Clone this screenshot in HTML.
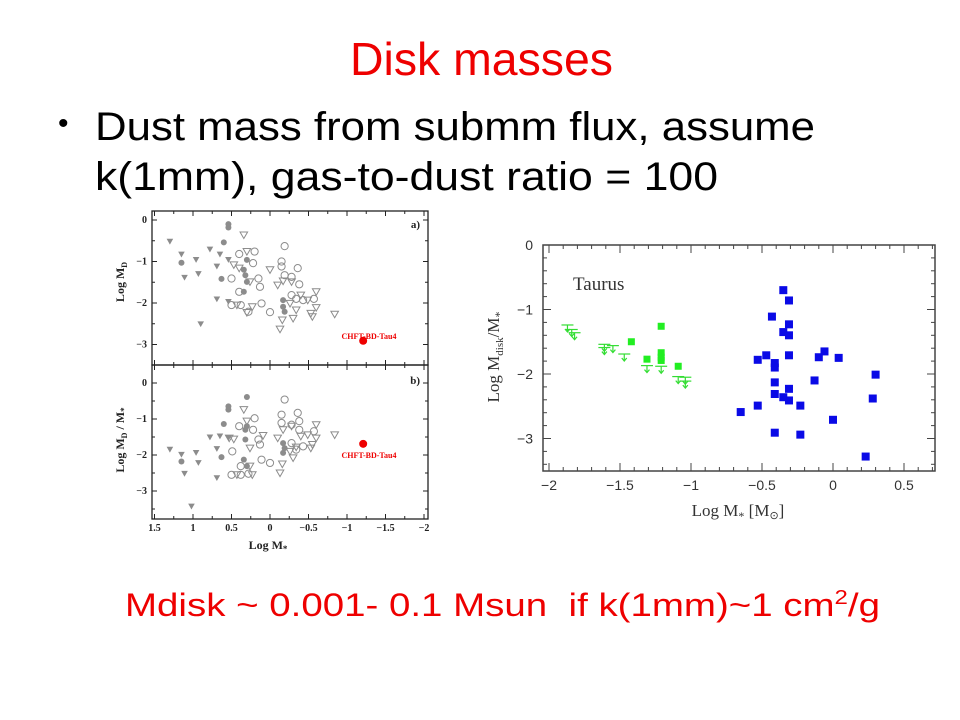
<!DOCTYPE html>
<html><head><meta charset="utf-8"><style>
html,body{margin:0;padding:0;background:#fff;}
svg{display:block;}
.sl{font-family:"Liberation Sans",sans-serif;}
.ax{font-family:"Liberation Serif",serif;font-weight:bold;font-size:10px;fill:#222;}
.rx{font-family:"Liberation Serif",serif;font-size:15px;fill:#333;}
.rt{font-family:"Liberation Sans",sans-serif;font-size:14px;fill:#333;}
</style></head><body>
<svg id="page" width="960" height="720" viewBox="0 0 960 720" xmlns="http://www.w3.org/2000/svg">
<text class="sl" x="350" y="75" font-size="46" fill="#ee0000" textLength="263" lengthAdjust="spacingAndGlyphs">Disk masses</text>
<text class="sl" x="58" y="133" font-size="30" fill="#000">•</text>
<text class="sl" x="95" y="140" font-size="40" fill="#000" textLength="720" lengthAdjust="spacingAndGlyphs">Dust mass from submm flux, assume</text>
<text class="sl" x="95" y="190" font-size="40" fill="#000" textLength="623" lengthAdjust="spacingAndGlyphs">k(1mm), gas-to-dust ratio = 100</text>
<text class="sl" x="125" y="616" font-size="32" fill="#ee0000" textLength="755" lengthAdjust="spacingAndGlyphs" xml:space="preserve">Mdisk ~ 0.001- 0.1 Msun  if k(1mm)~1 cm<tspan font-size="20" dy="-12">2</tspan><tspan dy="12">/g</tspan></text>
<g id="left"></g>
<g id="right"></g>
</svg>
<script>
// ---------- Left chart data (Log M*, value) ----------
const aFilledTri = [[1.30,-0.52],[1.15,-0.83],[1.11,-1.39],[0.96,-0.96],[0.93,-1.30],[0.90,-2.51],[0.78,-0.71],[0.69,-1.12],[0.69,-1.91],[0.65,-0.83],[0.54,-0.96],[0.54,-1.97]];
const aFilledCirc = [[1.15,-1.03],[0.63,-1.42],[0.60,-0.54],[0.54,-0.10],[0.54,-0.18],[0.30,-0.96],[0.34,-1.20],[0.32,-1.33],[0.30,-1.49],[0.34,-1.73],[-0.17,-1.93],[-0.17,-2.09],[-0.19,-2.21]];
const aOpenCirc = [[0.40,-0.82],[0.22,-1.04],[0.20,-0.76],[0.50,-1.41],[0.38,-2.05],[0.50,-2.05],[0.28,-2.21],[0.11,-2.01],[0.15,-1.41],[0.13,-1.61],[-0.15,-1.00],[-0.19,-0.63],[-0.15,-1.12],[-0.19,-1.33],[-0.28,-1.37],[-0.36,-1.16],[-0.38,-1.55],[0.00,-2.22],[-0.28,-1.81],[-0.34,-1.90],[-0.43,-1.93],[-0.57,-1.90],[0.40,-1.73]];
const aOpenTri = [[0.34,-0.36],[0.30,-0.76],[0.47,-1.08],[0.40,-1.16],[0.26,-1.49],[0.43,-2.05],[0.23,-2.09],[0.30,-2.23],[0.00,-1.20],[-0.10,-1.57],[-0.17,-1.47],[-0.28,-1.49],[-0.13,-2.63],[-0.16,-2.41],[-0.26,-2.01],[-0.34,-2.17],[-0.40,-1.81],[-0.49,-1.93],[-0.53,-2.25],[-0.60,-1.73],[-0.60,-2.11],[-0.84,-2.27],[-0.30,-2.37],[-0.55,-2.33]];
const aRed = [[-1.21,-2.91]];
const bFilledTri = [[1.30,-1.85],[1.15,-1.99],[1.11,-2.52],[0.96,-1.94],[0.93,-2.22],[0.69,-2.64],[0.78,-1.51],[0.69,-1.83],[0.65,-1.48],[0.54,-1.53],[1.02,-3.43]];
const bFilledCirc = [[1.15,-2.18],[0.63,-2.06],[0.60,-1.14],[0.54,-0.65],[0.54,-0.74],[0.30,-0.39],[0.30,-1.20],[0.32,-1.57],[0.34,-2.13],[0.30,-2.31],[-0.17,-1.67],[-0.17,-1.94],[-0.19,-1.81],[0.32,-1.30]];
const bOpenCirc = [[0.40,-1.20],[0.22,-1.30],[0.20,-0.98],[0.49,-1.90],[0.38,-2.31],[0.38,-2.55],[0.50,-2.55],[0.28,-2.52],[0.11,-2.13],[0.15,-1.57],[0.13,-1.71],[-0.15,-0.88],[-0.19,-0.46],[-0.15,-1.11],[-0.28,-1.16],[-0.36,-0.83],[-0.38,-1.30],[0,-2.22],[-0.28,-1.67],[-0.34,-1.85],[-0.43,-1.76],[-0.57,-1.34],[-0.38,-1.06]];
const bOpenTri = [[0.34,-0.74],[0.30,-1.06],[0.53,-1.53],[0.47,-1.56],[0.26,-1.81],[0.43,-2.55],[0.23,-2.55],[0.26,-2.31],[0.09,-1.46],[-0.10,-1.53],[-0.17,-1.30],[-0.28,-1.20],[-0.13,-2.50],[-0.16,-2.25],[-0.26,-1.90],[-0.34,-1.78],[-0.40,-1.48],[-0.49,-1.44],[-0.53,-1.81],[-0.60,-1.16],[-0.60,-1.53],[-0.84,-1.44],[-0.30,-2.08],[-0.55,-1.71]];
const bRed = [[-1.21,-1.69]];
const leftXTicks = [1.5,1,0.5,0,-0.5,-1,-1.5,-2];
const leftXTickLabels = ["1.5","1","0.5","0","\u22120.5","\u22121","\u22121.5","\u22122"];
const aYTicks = [0,-1,-2,-3];
const bYTicks = [0,-1,-2,-3];
// ---------- Right chart data ----------
const blueSquares = [[-0.35,-0.70],[-0.31,-0.86],[-0.43,-1.11],[-0.31,-1.23],[-0.35,-1.35],[-0.31,-1.40],[-0.31,-1.71],[-0.47,-1.71],[-0.53,-1.78],[-0.41,-1.83],[-0.41,-1.90],[-0.41,-2.13],[-0.31,-2.23],[-0.41,-2.31],[-0.35,-2.36],[-0.31,-2.41],[-0.23,-2.49],[-0.53,-2.49],[-0.65,-2.59],[-0.41,-2.91],[-0.23,-2.94],[-0.13,-2.10],[-0.10,-1.74],[-0.06,-1.65],[0.04,-1.75],[0.00,-2.71],[0.23,-3.28],[0.28,-2.38],[0.30,-2.01]];
const greenSquares = [[-1.21,-1.26],[-1.42,-1.50],[-1.31,-1.77],[-1.21,-1.67],[-1.21,-1.74],[-1.21,-1.79],[-1.09,-1.88]];
const greenLimits = [[-1.87,-1.24],[-1.84,-1.31],[-1.82,-1.36],[-1.61,-1.54],[-1.61,-1.59],[-1.55,-1.56],[-1.47,-1.69],[-1.31,-1.87],[-1.21,-1.88],[-1.09,-2.04],[-1.04,-2.05],[-1.04,-2.11]];
const rightXTicks = [-2,-1.5,-1,-0.5,0,0.5];
const rightXTickLabels = ["\u22122","\u22121.5","\u22121","\u22120.5","0","0.5"];
const rightYTicks = [0,-1,-2,-3];
const rightYTickLabels = ["0","\u22121","\u22122","\u22123"];

const NS="http://www.w3.org/2000/svg";
function mk(parent,tag,attrs){const e=document.createElementNS(NS,tag);for(const k in attrs)e.setAttribute(k,attrs[k]);parent.appendChild(e);return e;}

// ----- left chart -----
const L=document.getElementById('left');
const lx=v=>270-77*v;
const ayS=v=>220-41.5*v;
const byS=v=>383-36*v;
const LX0=152,LX1=428;
function panel(top,bot,ys,ticks,name){
  const r=mk(L,'rect',{x:LX0,y:top,width:LX1-LX0,height:bot-top,fill:'none',stroke:'#222','stroke-width':1.3});
  
  
  for(let v=1.5;v>=-2.01;v-=0.25){const x=lx(v);const big=Math.abs(v*2-Math.round(v*2))<0.01;const h=big?5:3;
    mk(L,'line',{x1:x,y1:bot,x2:x,y2:bot-h,stroke:'#222','stroke-width':1});
    mk(L,'line',{x1:x,y1:top,x2:x,y2:top+h,stroke:'#222','stroke-width':1});}
  ticks.forEach(v=>{const y=ys(v);
    mk(L,'line',{x1:LX0,y1:y,x2:LX0+5,y2:y,stroke:'#222'});
    mk(L,'line',{x1:LX1,y1:y,x2:LX1-5,y2:y,stroke:'#222'});
    const t=mk(L,'text',{x:LX0-5,y:y+3,'text-anchor':'end',class:'ax'});t.textContent=v===0?'0':'\u2212'+Math.abs(v);
    
    });
  for(let v=ticks[0]+0.5;v>ticks[ticks.length-1]-1;v-=0.5){const y=ys(v);if(y>top&&y<bot){
    mk(L,'line',{x1:LX0,y1:y,x2:LX0+3,y2:y,stroke:'#222'});mk(L,'line',{x1:LX1,y1:y,x2:LX1-3,y2:y,stroke:'#222'});}}
}
panel(211,365,ayS,aYTicks,'panel-a');
panel(365,519,byS,bYTicks,'panel-b');
const grey='#8c8c8c';
function drawSet(arr,ys,type,name){arr.forEach(p=>{const x=lx(p[0]),y=ys(p[1]);let e;
  if(type==='ft')e=mk(L,'polygon',{points:`${x-3.3},${y-2.8} ${x+3.3},${y-2.8} ${x},${y+3}`,fill:grey});
  else if(type==='ot')e=mk(L,'polygon',{points:`${x-3.8},${y-3} ${x+3.8},${y-3} ${x},${y+3.6}`,fill:'none',stroke:grey,'stroke-width':1});
  else if(type==='fc')e=mk(L,'circle',{cx:x,cy:y,r:3,fill:grey});
  else if(type==='oc')e=mk(L,'circle',{cx:x,cy:y,r:3.6,fill:'none',stroke:grey,'stroke-width':1});
  else e=mk(L,'circle',{cx:x,cy:y,r:4,fill:'#ee0000'});
  
  });}
drawSet(aOpenCirc,ayS,'oc','panel-a-open-circle');drawSet(aOpenTri,ayS,'ot','panel-a-open-triangle');
drawSet(aFilledTri,ayS,'ft','panel-a-filled-triangle');drawSet(aFilledCirc,ayS,'fc','panel-a-filled-circle');drawSet(aRed,ayS,'red','panel-a-chft-bd-tau4');
drawSet(bOpenCirc,byS,'oc','panel-b-open-circle');drawSet(bOpenTri,byS,'ot','panel-b-open-triangle');
drawSet(bFilledTri,byS,'ft','panel-b-filled-triangle');drawSet(bFilledCirc,byS,'fc','panel-b-filled-circle');drawSet(bRed,byS,'red','panel-b-chft-bd-tau4');
leftXTicks.forEach((v,i)=>{const t=mk(L,'text',{x:lx(v),y:531,'text-anchor':'middle',class:'ax'});t.textContent=leftXTickLabels[i];
  
  });
function lt(txt,attrs,name,html){const t=mk(L,'text',attrs);if(html)t.innerHTML=html;else t.textContent=txt;return t;}
lt('',{x:268,y:549,class:'ax','text-anchor':'middle',style:'font-size:12px'},'left-x-axis-title','Log M<tspan dy="3" font-size="9">*</tspan>');
lt('a)',{x:420,y:228,'text-anchor':'end',class:'ax',style:'font-size:11px'},'panel-a-label');
lt('b)',{x:420,y:384,'text-anchor':'end',class:'ax',style:'font-size:11px'},'panel-b-label');
lt('CHFT-BD-Tau4',{x:369,y:339,'text-anchor':'middle',class:'ax',style:'font-size:8px;fill:#ee0000'},'panel-a-red-label');
lt('CHFT-BD-Tau4',{x:369,y:458,'text-anchor':'middle',class:'ax',style:'font-size:8px;fill:#ee0000'},'panel-b-red-label');
lt('',{x:0,y:0,class:'ax',style:'font-size:12px','text-anchor':'middle',transform:'translate(124,282) rotate(-90)'},'panel-a-y-axis-title','Log M<tspan dy="3" font-size="8">D</tspan>');
lt('',{x:0,y:0,class:'ax',style:'font-size:12px','text-anchor':'middle',transform:'translate(124,440) rotate(-90)'},'panel-b-y-axis-title','Log M<tspan dy="3" font-size="8">D</tspan><tspan dy="-3"> / M</tspan><tspan dy="3" font-size="9">*</tspan>');

// ----- right chart -----
const R=document.getElementById('right');
const rx=v=>833+142*v;
const ry=v=>245-64.5*v;
const RX0=543,RX1=935,RY0=245,RY1=471;
const fr=mk(R,'rect',{x:RX0,y:RY0,width:RX1-RX0,height:RY1-RY0,fill:'none',stroke:'#444','stroke-width':1.5});


for(let v=-2;v<=0.71;v+=0.1){const x=rx(v);if(x<RX0||x>RX1)continue;const big=Math.abs(v*2-Math.round(v*2))<0.01;const h=big?8:4;
  mk(R,'line',{x1:x,y1:RY1,x2:x,y2:RY1-h,stroke:'#444'});mk(R,'line',{x1:x,y1:RY0,x2:x,y2:RY0+h,stroke:'#444'});}
for(let v=0;v>=-3.5;v-=0.2){const y=ry(v);const big=Math.abs(v-Math.round(v))<0.01;const h=big?8:4;
  mk(R,'line',{x1:RX0,y1:y,x2:RX0+h,y2:y,stroke:'#444'});mk(R,'line',{x1:RX1,y1:y,x2:RX1-h,y2:y,stroke:'#444'});}
rightXTicks.forEach((v,i)=>{const t=mk(R,'text',{x:rx(v),y:490,'text-anchor':'middle',class:'rt'});t.textContent=rightXTickLabels[i];
  
  });
rightYTicks.forEach((v,i)=>{const t=mk(R,'text',{x:533,y:ry(v)+5,'text-anchor':'end',class:'rt'});t.textContent=rightYTickLabels[i];
  
  });
blueSquares.forEach(p=>{const e=mk(R,'rect',{x:rx(p[0])-4,y:ry(p[1])-4,width:8,height:8,fill:'#0a0ae6'});
  
  });
greenSquares.forEach(p=>{const e=mk(R,'rect',{x:rx(p[0])-3.5,y:ry(p[1])-3.5,width:7,height:7,fill:'#22ee22'});
  
  });
greenLimits.forEach(p=>{const x=rx(p[0]),y=ry(p[1]);const g=mk(R,'g',{stroke:'#33dd33','stroke-width':1.2,fill:'none'});
  
  
  mk(g,'line',{x1:x-6,y1:y,x2:x+6,y2:y});mk(g,'line',{x1:x,y1:y,x2:x,y2:y+7});
  mk(g,'polyline',{points:`${x-2.5},${y+4} ${x},${y+7} ${x+2.5},${y+4}`});});
const tt=mk(R,'text',{x:573,y:290,class:'rx',style:'font-size:19px'});tt.textContent='Taurus';


const xt=mk(R,'text',{x:738,y:516,'text-anchor':'middle',class:'rx',style:'font-size:17px'});xt.innerHTML='Log M<tspan dy="4" font-size="12">*</tspan><tspan dy="-4"> [M</tspan><tspan dy="3" font-size="11">\u2299</tspan><tspan dy="-3">]</tspan>';


const yt=mk(R,'text',{x:0,y:0,'text-anchor':'middle',class:'rx',style:'font-size:17px',transform:'translate(499,357) rotate(-90)'});
yt.innerHTML='Log M<tspan dy="4" font-size="11">disk</tspan><tspan dy="-4">/M</tspan><tspan dy="4" font-size="12">*</tspan>';


</script>
</body></html>
